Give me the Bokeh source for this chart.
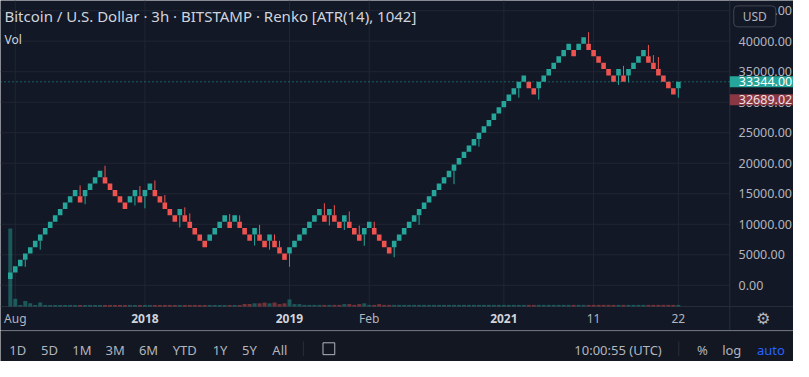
from bokeh.plotting import figure
from bokeh.models import Range1d, Label, ColumnDataSource
from bokeh.layouts import column
from bokeh.embed import file_html
from bokeh.resources import INLINE
from bokeh.core.properties import value

# ---------------- data ----------------
BOX = 1042  # Renko box size (ATR 14)
# close level of every brick, in box units (price = level * BOX)
close_lvl = [2, 3, 4, 5, 6, 7, 8, 9, 10, 11, 12, 13, 14, 15, 13, 15, 16, 17, 18, 16,
             15, 14, 13, 12, 14, 15, 13, 15, 16, 14, 13, 12, 11, 10, 12, 10, 9, 8, 7, 6,
             8, 9, 10, 11, 9, 11, 9, 8, 7, 9, 7, 6, 8, 6, 5, 4, 6, 7, 8, 9,
             10, 11, 12, 10, 12, 10, 9, 11, 9, 8, 7, 9, 10, 8, 7, 6, 5, 7, 8, 9,
             10, 11, 12, 13, 14, 15, 16, 17, 18, 19, 20, 21, 22, 23, 24, 25, 26, 27, 28, 29,
             30, 31, 32, 33, 31, 30, 32, 33, 34, 35, 36, 37, 38, 36, 38, 39, 37, 36, 35, 34,
             33, 32, 34, 32, 34, 35, 36, 37, 35, 34, 33, 32, 31, 30, 32]
brick_dir = ("UUUUUUUUUUUUUUDUUUUDDDDDUUDUUDDDDDUDDDDDUUUUDUDDDUDDUDDDUUUUUUUDUDDUDDDUUDDDD"
             "UUUUUUUUUUUUUUUUUUUUUUUUUUUDDUUUUUUUDUUDDDDDDUDUUUUDDDDDDU")
# wicks: brick number (1-based) and wick extreme in box units
wick_low_no = [4, 7, 16, 26, 28, 35, 50, 53, 57, 65, 68, 72, 78, 83, 90, 95, 103, 107, 123, 125, 135]
wick_low_lvl = [2.9, 5.6, 12.75, 12.56, 12.1, 9.1, 6.25, 5.6, 2.9, 9.4, 8.7, 6.2, 4.4, 9.5, 15.9,
                21.8, 29.5, 29.2, 31.5, 31.9, 29.5]
wick_high_no = [15, 20, 27, 30, 32, 36, 37, 45, 47, 51, 54, 55, 64, 66, 69, 71, 74, 117, 124, 129, 130, 131]
wick_high_lvl = [15.7, 18.8, 15.6, 16.5, 14.2, 12.25, 11.3, 11.2, 11.0, 9.5, 8.0, 7.0, 12.9, 12.6,
                 11.6, 9.4, 10.0, 39.8, 34.5, 37.8, 36.2, 35.9]
volume = [100, 10, 2, 7, 4, 2, 5, 2, 2, 2,
          2, 2, 2, 2, 2, 2, 2, 2, 2, 2,
          2, 2, 2, 2, 2, 2, 2, 2, 2, 2,
          2, 2, 2, 2, 2, 2, 2, 2, 2, 2,
          2, 2, 2, 2, 2, 2, 2, 3, 3, 4,
          4, 5, 4, 5, 3, 4, 9, 3, 3, 2,
          2, 2, 2, 2, 2, 2, 2, 3, 3, 2,
          3, 4, 2, 2, 3, 2, 2, 2, 2, 2,
          2, 2, 2, 2, 2, 2, 2, 2, 2, 2,
          2, 2, 2, 2, 2, 2, 2, 2, 2, 2,
          2, 2, 2, 2, 2, 2, 2, 2, 2, 2,
          2, 2, 2, 2, 2, 2, 2, 2, 2, 2,
          2, 2, 2, 2, 2, 2, 2, 2, 2, 2,
          2, 2, 2, 2, 2]
time_tick_idx = [1, 27, 56, 72, 99, 117, 134]
time_tick_lbl = ["Aug", "2018", "2019", "Feb", "2021", "11", "22"]
time_tick_bold = [False, True, True, False, True, False, False]
price_ticks = [0, 5000, 10000, 15000, 20000, 25000, 30000, 35000, 40000, 45000]
last_price = 33344.00
prev_close = 32689.02
title_text = "Bitcoin / U.S. Dollar \u00b7 3h \u00b7 BITSTAMP \u00b7 Renko [ATR(14), 1042]"
range_buttons = ["1D", "5D", "1M", "3M", "6M", "YTD", "1Y", "5Y", "All"]

# ---------------- styling / layout ----------------
BG = "#121826"
BG2 = "#131722"
GRID = "#222633"
SEP = "#2a2e39"
TXT = "#b2b5be"
UP = "#26a69a"
DN = "#ef5350"
FONT = "Noto Sans"

W = 793
MAIN_H = 330
TB_H = 31
SY = MAIN_H / 343.0          # screen px per reference px (vertical)

# horizontal mapping: reference pixel -> brick index
BAR_PX = 5.086
X0 = -10 / BAR_PX


def rx(px):
    return X0 + px / BAR_PX


CHART_R = rx(744)             # right edge of the chart pane (price scale starts here)

P_TOP, P_BOT = 46666, -3468   # prices at top / bottom of the chart pane
ppx = (P_TOP - P_BOT) / 318.0
Y_START = P_BOT - 25 * ppx    # bottom of the time-scale row

n = len(close_lvl)
xs = list(range(n))
opens = [(c - 1) if d == "U" else (c + 1) for c, d in zip(close_lvl, brick_dir)]
lo = [min(o, c) * BOX for o, c in zip(opens, close_lvl)]
hi = [max(o, c) * BOX for o, c in zip(opens, close_lvl)]
colors = [UP if d == "U" else DN for d in brick_dir]

src = ColumnDataSource(dict(x=xs, lo=lo, hi=hi, color=colors, vol=volume))

p = figure(width=W, height=MAIN_H, x_range=Range1d(rx(0), rx(809)), y_range=Range1d(Y_START, P_TOP),
           y_axis_location=None, x_axis_location=None, toolbar_location=None,
           output_backend="svg", background_fill_color=BG, border_fill_color=BG,
           outline_line_color=None, min_border=0)
p.grid.visible = False

# grid lines of the chart pane
p.segment(x0=[rx(0)] * len(price_ticks), y0=price_ticks, x1=[CHART_R] * len(price_ticks),
          y1=price_ticks, line_color=GRID, line_width=1)
p.segment(x0=time_tick_idx, y0=[P_BOT] * len(time_tick_idx), x1=time_tick_idx,
          y1=[P_TOP] * len(time_tick_idx), line_color=GRID, line_width=1)
# pane separators
p.segment(x0=[rx(0), CHART_R], y0=[P_BOT, Y_START], x1=[rx(809), CHART_R], y1=[P_BOT, P_TOP],
          line_color=SEP, line_width=1)

# volume
vmax = max(volume)
k = vmax / 81.0
p.extra_y_ranges = {"vol": Range1d(-25 * k, 318 * k)}
p.vbar(x="x", bottom=0, top="vol", width=0.8, source=src, y_range_name="vol",
       fill_color="color", line_color=None, fill_alpha=0.45)

# wicks
wl_x = [i - 1 for i in wick_low_no]
p.segment(x0=wl_x, y0=[opens[i] * BOX for i in wl_x], x1=wl_x, y1=[v * BOX for v in wick_low_lvl],
          line_color=UP, line_width=1)
wh_x = [i - 1 for i in wick_high_no]
p.segment(x0=wh_x, y0=[opens[i] * BOX for i in wh_x], x1=wh_x, y1=[v * BOX for v in wick_high_lvl],
          line_color=DN, line_width=1)

# bricks
p.vbar(x="x", bottom="lo", top="hi", width=0.92, source=src, fill_color="color", line_color=None)

# last price line
p.segment(x0=[rx(0)], y0=[last_price], x1=[CHART_R], y1=[last_price], line_color=UP,
          line_width=1, line_dash="1 3")

# price scale labels
p.text(x=[rx(753)] * len(price_ticks), y=price_ticks,
       text=[f"{v:.2f}" for v in price_ticks], text_font=value(FONT), text_font_size="12.5px",
       text_align="left", text_baseline="middle", text_color=TXT)

# time scale labels
y_time = P_BOT - 12.5 * ppx
for xi, lb, bd in zip(time_tick_idx, time_tick_lbl, time_tick_bold):
    p.text(x=[xi], y=[y_time], text=[lb], text_font=value(FONT), text_font_size="12px",
           text_align="center", text_baseline="middle",
           text_color="#d1d4dc" if bd else TXT, text_font_style="bold" if bd else "normal")
p.text(x=[rx(778)], y=[y_time], text=["\u2699"], text_font=value("DejaVu Sans"),
       text_font_size="16px", text_align="center", text_baseline="middle", text_color=TXT)

# header texts
p.add_layout(Label(x=4, y=(343 - 16) * SY, x_units="screen", y_units="screen", text=title_text,
                   text_font=FONT, text_font_size="15px", text_color="#d1d4dc", text_baseline="middle"))
p.add_layout(Label(x=4, y=(343 - 41) * SY, x_units="screen", y_units="screen", text="Vol",
                   text_font=FONT, text_font_size="12px", text_color="#d1d4dc", text_baseline="middle"))

# price labels on the price scale (the box starts at the scale's left edge)
p.add_layout(Label(x=CHART_R, y=last_price, x_units="data", y_units="data",
                   text=f"{last_price:.2f}", text_font=FONT, text_font_size="12.5px",
                   text_color="#ffffff", text_baseline="middle", background_fill_color=UP,
                   padding=dict(left=9, right=6, top=1, bottom=1)))
p.add_layout(Label(x=CHART_R, y=prev_close, y_offset=-14, x_units="data", y_units="data",
                   text=f"{prev_close:.2f}", text_font=FONT, text_font_size="12.5px",
                   text_color="#f0e0e2", text_baseline="middle", background_fill_color="#883743",
                   padding=dict(left=9, right=6, top=1, bottom=1)))
p.add_layout(Label(x=rx(748), y=(343 - 16.5) * SY, x_units="data", y_units="screen",
                   text="USD", text_font=FONT, text_font_size="12px", text_color=TXT,
                   text_baseline="middle", background_fill_color=BG, border_line_color="#434651",
                   border_radius=4, padding=dict(left=9, right=9, top=2, bottom=2)))

# ---------------- bottom toolbar ----------------
tb = figure(width=W, height=TB_H, x_range=Range1d(0, 809), y_range=Range1d(0, 34),
            x_axis_location=None, y_axis_location=None, toolbar_location=None,
            output_backend="svg", background_fill_color=BG2, border_fill_color=BG2,
            outline_line_color=None, min_border=0)
tb.grid.visible = False
btn_x = [17.5, 50, 83, 117, 151, 188, 224, 254, 285]
tb.text(x=btn_x, y=[13] * len(btn_x), text=range_buttons, text_font=value(FONT),
        text_font_size="13px", text_align="center", text_baseline="middle", text_color=TXT)
tb.segment(x0=[0, 309, 692], y0=[33.5, 6, 6], x1=[809, 309, 692], y1=[33.5, 22, 22],
           line_color=SEP, line_width=1)
tb.rect(x=[335], y=[14], width=[12], height=[13], fill_color=None, line_color=TXT, line_width=1)
tb.text(x=[630], y=[13], text=["10:00:55 (UTC)"], text_font=value(FONT), text_font_size="13px",
        text_align="center", text_baseline="middle", text_color=TXT)
tb.text(x=[716, 746], y=[13, 13], text=["%", "log"], text_font=value(FONT), text_font_size="13px",
        text_align="center", text_baseline="middle", text_color=TXT)
tb.text(x=[786], y=[13], text=["auto"], text_font=value(FONT), text_font_size="13px",
        text_align="center", text_baseline="middle", text_color="#2962ff")

layout = column(p, tb, spacing=0)
open("out.html", "w").write(file_html(layout, INLINE))
